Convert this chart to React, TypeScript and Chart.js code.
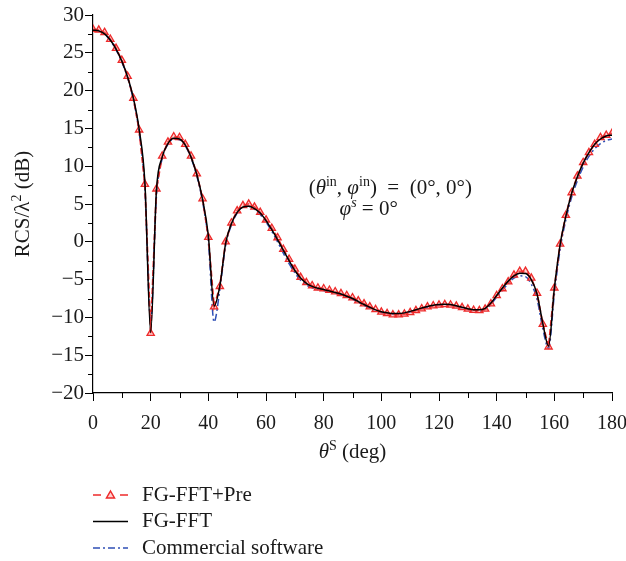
import React, { useEffect, useRef } from "react";
import { Chart, registerables } from "chart.js";

Chart.register(...registerables);

const angles = [
  0, 2, 4, 6, 8, 10, 12, 14, 16, 18, 20, 22, 24, 26, 28, 30, 32, 34, 36, 38,
  40, 42, 44, 46, 48, 50, 52, 54, 56, 58, 60, 62, 64, 66, 68, 70, 72, 74, 76, 78,
  80, 82, 84, 86, 88, 90, 92, 94, 96, 98, 100, 102, 104, 106, 108, 110, 112, 114, 116, 118,
  120, 122, 124, 126, 128, 130, 132, 134, 136, 138, 140, 142, 144, 146, 148, 150, 152, 154, 156, 158,
  160, 162, 164, 166, 168, 170, 172, 174, 176, 178, 180,
];

const fgFftPre = [
  28.1, 28.0, 27.7, 26.8, 25.6, 24.0, 21.9, 19.0, 14.8, 7.6,
  -12.1, 7.0, 11.35, 13.2, 13.9, 13.8, 12.9, 11.35, 9.0, 5.7,
  0.6, -8.6, -5.9, 0.0, 2.5, 4.1, 4.8, 5.0, 4.6, 3.9,
  2.9, 1.8, 0.55, -1.0, -2.3, -3.6, -4.7, -5.4, -5.8, -6.1,
  -6.2, -6.4, -6.6, -6.85, -7.1, -7.4, -7.8, -8.2, -8.6, -8.95,
  -9.3, -9.5, -9.65, -9.65, -9.55, -9.35, -9.1, -8.85, -8.6, -8.45,
  -8.35, -8.3, -8.35, -8.5, -8.7, -8.9, -9.05, -9.1, -8.9, -8.2,
  -7.1, -6.2, -5.3, -4.4, -3.9, -3.9, -4.8, -6.8, -10.9, -13.9,
  -6.1, -0.3, 3.5, 6.5, 8.7, 10.5, 11.8, 12.9, 13.8, 14.1,
  14.35,
];

const fgFft = [
  28.0, 27.9, 27.5, 26.7, 25.5, 23.9, 21.8, 19.0, 14.9, 7.8,
  -12.0, 6.8, 11.2, 13.0, 13.7, 13.6, 12.8, 11.2, 8.9, 5.6,
  0.8, -8.5, -5.8, -0.2, 2.4, 3.9, 4.6, 4.7, 4.4, 3.8,
  2.8, 1.6, 0.3, -1.1, -2.5, -3.8, -4.8, -5.5, -5.9, -6.15,
  -6.3, -6.5, -6.7, -6.9, -7.2, -7.5, -7.9, -8.3, -8.65, -9.0,
  -9.25, -9.4, -9.5, -9.5, -9.4, -9.2, -9.0, -8.75, -8.55, -8.4,
  -8.3, -8.25, -8.3, -8.45, -8.65, -8.85, -9.0, -9.0, -8.8, -8.1,
  -7.1, -6.1, -5.2, -4.5, -4.15, -4.2, -5.0, -6.9, -10.8, -13.8,
  -6.2, -0.4, 3.4, 6.4, 8.6, 10.4, 11.8, 12.9, 13.6, 14.0,
  14.1,
];

const commercial = [
  28.0, 27.9, 27.5, 26.6, 25.4, 23.8, 21.7, 18.8, 14.5, 7.0,
  -10.5, 6.0, 11.0, 12.9, 13.6, 13.5, 12.7, 11.1, 8.7, 5.3,
  0.0, -10.6, -6.3, -0.5, 2.2, 3.8, 4.6, 4.7, 4.3, 3.6,
  2.6, 1.4, 0.0, -1.5, -2.9, -4.1, -5.1, -5.7, -6.1, -6.3,
  -6.45, -6.6, -6.8, -7.0, -7.3, -7.6, -8.0, -8.4, -8.8, -9.1,
  -9.35, -9.5, -9.55, -9.55, -9.45, -9.3, -9.1, -8.85, -8.65, -8.5,
  -8.4, -8.35, -8.4, -8.55, -8.75, -8.95, -9.15, -9.2, -8.95, -8.3,
  -7.3, -6.4, -5.5, -4.8, -4.5, -4.6, -5.6, -7.6, -11.5, -14.1,
  -7.0, -1.0, 2.9, 5.9, 8.1, 9.9, 11.3, 12.3, 13.0, 13.4,
  13.6,
];

const seriesLabels = ["FG-FFT+Pre", "FG-FFT", "Commercial software"];

const xMin = 0;
const xMax = 180;
const xStep = 20;
const yMin = -20;
const yMax = 30;
const yStep = 5;

const FONT = "'Liberation Serif', 'Times New Roman', serif";
const RED = "#ee2b2b";
const BLUE = "#2f4fb5";
const TXT = 21;
const SUP = 14;

type Run = { t: string; it?: boolean; sup?: boolean };

function runFont(r: Run, size: number, supSize: number) {
  return `${r.it ? "italic " : ""}${r.sup ? supSize : size}px ${FONT}`;
}

function runsWidth(ctx: CanvasRenderingContext2D, runs: Run[], size: number, supSize: number) {
  let w = 0;
  for (const r of runs) {
    ctx.font = runFont(r, size, supSize);
    w += ctx.measureText(r.t).width;
  }
  return w;
}

function drawRuns(
  ctx: CanvasRenderingContext2D,
  runs: Run[],
  x: number,
  y: number,
  size: number,
  supSize: number,
  supRaise: number
) {
  let cx = x;
  ctx.textBaseline = "alphabetic";
  ctx.textAlign = "left";
  for (const r of runs) {
    ctx.font = runFont(r, size, supSize);
    ctx.fillText(r.t, cx, r.sup ? y - supRaise : y);
    cx += ctx.measureText(r.t).width;
  }
}

const decorPlugin = {
  id: "decor",
  afterDatasetsDraw(chart: any) {
    const ctx: CanvasRenderingContext2D = chart.ctx;
    const xs = chart.scales.x;
    const ys = chart.scales.y;
    ctx.save();
    // minor ticks
    ctx.strokeStyle = "#000";
    ctx.lineWidth = 1;
    const xt = xs.ticks.map((t: any) => t.value);
    for (let i = 0; i < xt.length - 1; i++) {
      const px = Math.round(xs.getPixelForValue((xt[i] + xt[i + 1]) / 2)) + 0.5;
      ctx.beginPath();
      ctx.moveTo(px, xs.top);
      ctx.lineTo(px, xs.top + 5);
      ctx.stroke();
    }
    const yt = ys.ticks.map((t: any) => t.value);
    for (let i = 0; i < yt.length - 1; i++) {
      const py = Math.round(ys.getPixelForValue((yt[i] + yt[i + 1]) / 2)) + 0.5;
      ctx.beginPath();
      ctx.moveTo(ys.right, py);
      ctx.lineTo(ys.right - 5, py);
      ctx.stroke();
    }

    ctx.fillStyle = "#1a1a1a";
    // annotation
    const line1: Run[] = [
      { t: "(" },
      { t: "θ", it: true },
      { t: "in", sup: true },
      { t: ", " },
      { t: "φ", it: true },
      { t: "in", sup: true },
      { t: ")  =  (0°, 0°)" },
    ];
    const line2: Run[] = [
      { t: "φ", it: true },
      { t: "s", it: true, sup: true },
      { t: " = 0°" },
    ];
    const l1x = xs.getPixelForValue(74.8);
    drawRuns(ctx, line1, l1x, ys.getPixelForValue(6.3), TXT, SUP, 8);
    const l2x = xs.getPixelForValue(85.5);
    drawRuns(ctx, line2, l2x, ys.getPixelForValue(3.6), TXT, SUP, 8);

    // x-axis title
    const xTitle: Run[] = [
      { t: "θ", it: true },
      { t: "S", sup: true },
      { t: " (deg)" },
    ];
    const xw = runsWidth(ctx, xTitle, TXT, SUP);
    const xc = (chart.chartArea.left + chart.chartArea.right) / 2;
    drawRuns(ctx, xTitle, xc - xw / 2, chart.chartArea.bottom + 65, TXT, SUP, 8);

    // y-axis title
    const yTitle: Run[] = [
      { t: "RCS/λ" },
      { t: "2", sup: true },
      { t: " (dB)" },
    ];
    const yw = runsWidth(ctx, yTitle, TXT, SUP);
    const yc = (chart.chartArea.top + chart.chartArea.bottom) / 2;
    ctx.save();
    ctx.translate(29, yc);
    ctx.rotate(-Math.PI / 2);
    drawRuns(ctx, yTitle, -yw / 2, 0, TXT, SUP, 8);
    ctx.restore();

    // legend
    const lx0 = chart.chartArea.left;
    const lx1 = lx0 + 35;
    const tx = lx0 + 49;
    const rows = [495, 521.5, 548];
    chart.data.datasets.forEach((ds: any, i: number) => {
      const yy = rows[i];
      ctx.save();
      ctx.strokeStyle = ds.borderColor;
      ctx.lineWidth = 1.5;
      if (i === 0) {
        ctx.beginPath();
        ctx.moveTo(lx0, yy);
        ctx.lineTo(lx0 + 8, yy);
        ctx.moveTo(lx1 - 8, yy);
        ctx.lineTo(lx1, yy);
        ctx.stroke();
        const cx = (lx0 + lx1) / 2;
        ctx.beginPath();
        ctx.moveTo(cx, yy - 4);
        ctx.lineTo(cx + 4, yy + 3);
        ctx.lineTo(cx - 4, yy + 3);
        ctx.closePath();
        ctx.fillStyle = "rgba(255,120,120,0.35)";
        ctx.fill();
        ctx.stroke();
      } else {
        ctx.setLineDash(ds.borderDash || []);
        ctx.beginPath();
        ctx.moveTo(lx0, yy);
        ctx.lineTo(lx1, yy);
        ctx.stroke();
      }
      ctx.restore();
      ctx.fillStyle = "#1a1a1a";
      ctx.font = `${TXT}px ${FONT}`;
      ctx.textBaseline = "middle";
      ctx.textAlign = "left";
      ctx.fillText(ds.label, tx, yy);
    });
    ctx.restore();
  },
};

export default function App() {
  const ref = useRef<HTMLCanvasElement | null>(null);
  useEffect(() => {
    document.body.style.margin = "0";
    const canvas = ref.current!;
    const mk = (ys: number[]) => angles.map((a, i) => ({ x: a, y: ys[i] }));
    const chart = new Chart(canvas, {
      type: "line",
      data: {
        datasets: [
          {
            label: seriesLabels[0],
            data: mk(fgFftPre),
            borderColor: RED,
            backgroundColor: "rgba(255,120,120,0.35)",
            borderWidth: 1.8,
            borderDash: [6, 3],
            tension: 0,
            pointStyle: "triangle",
            pointRadius: 4.2,
            pointBorderColor: RED,
            pointBackgroundColor: "rgba(255,120,120,0.35)",
            pointBorderWidth: 1.3,
            order: 2,
          },
          {
            label: seriesLabels[1],
            data: mk(fgFft),
            borderColor: "#000000",
            borderWidth: 1.5,
            cubicInterpolationMode: "monotone",
            pointRadius: 0,
            order: 1,
          },
          {
            label: seriesLabels[2],
            data: mk(commercial),
            borderColor: BLUE,
            borderWidth: 1.5,
            borderDash: [7, 3, 2, 3],
            cubicInterpolationMode: "monotone",
            pointRadius: 0,
            order: 3,
          },
        ],
      },
      options: {
        animation: false,
        responsive: false,
        maintainAspectRatio: false,
        layout: { padding: { top: 15, right: 14, left: 0, bottom: 0 } },
        plugins: {
          legend: { display: false },
          tooltip: { enabled: false },
        },
        scales: {
          x: {
            type: "linear",
            min: xMin,
            max: xMax,
            ticks: {
              stepSize: xStep,
              color: "#1a1a1a",
              font: { family: FONT, size: 20 },
              padding: 11,
              maxRotation: 0,
            },
            grid: {
              display: true,
              drawOnChartArea: false,
              drawTicks: true,
              tickLength: 8,
              color: "#000",
              lineWidth: 1,
            },
            border: { display: true, color: "#000", width: 1.2 },
            afterFit: (s: any) => {
              s.height = 168;
              s.paddingRight = 0;
              s.paddingLeft = 0;
            },
          },
          y: {
            type: "linear",
            min: yMin,
            max: yMax,
            ticks: {
              stepSize: yStep,
              color: "#1a1a1a",
              font: { family: FONT, size: 21 },
              padding: 1,
              callback: (v: any) => (Number(v) < 0 ? "−" + Math.abs(Number(v)) : String(v)),
            },
            grid: {
              display: true,
              drawOnChartArea: false,
              drawTicks: true,
              tickLength: 8,
              color: "#000",
              lineWidth: 1,
            },
            border: { display: true, color: "#000", width: 1.2 },
            afterFit: (s: any) => {
              s.width = 93;
              s.paddingTop = 0;
              s.paddingBottom = 0;
            },
          },
        },
      },
      plugins: [decorPlugin],
    });
    return () => chart.destroy();
  }, []);
  return (
    <div style={{ width: 626, height: 561 }}>
      <canvas ref={ref} width={626} height={561} />
    </div>
  );
}
